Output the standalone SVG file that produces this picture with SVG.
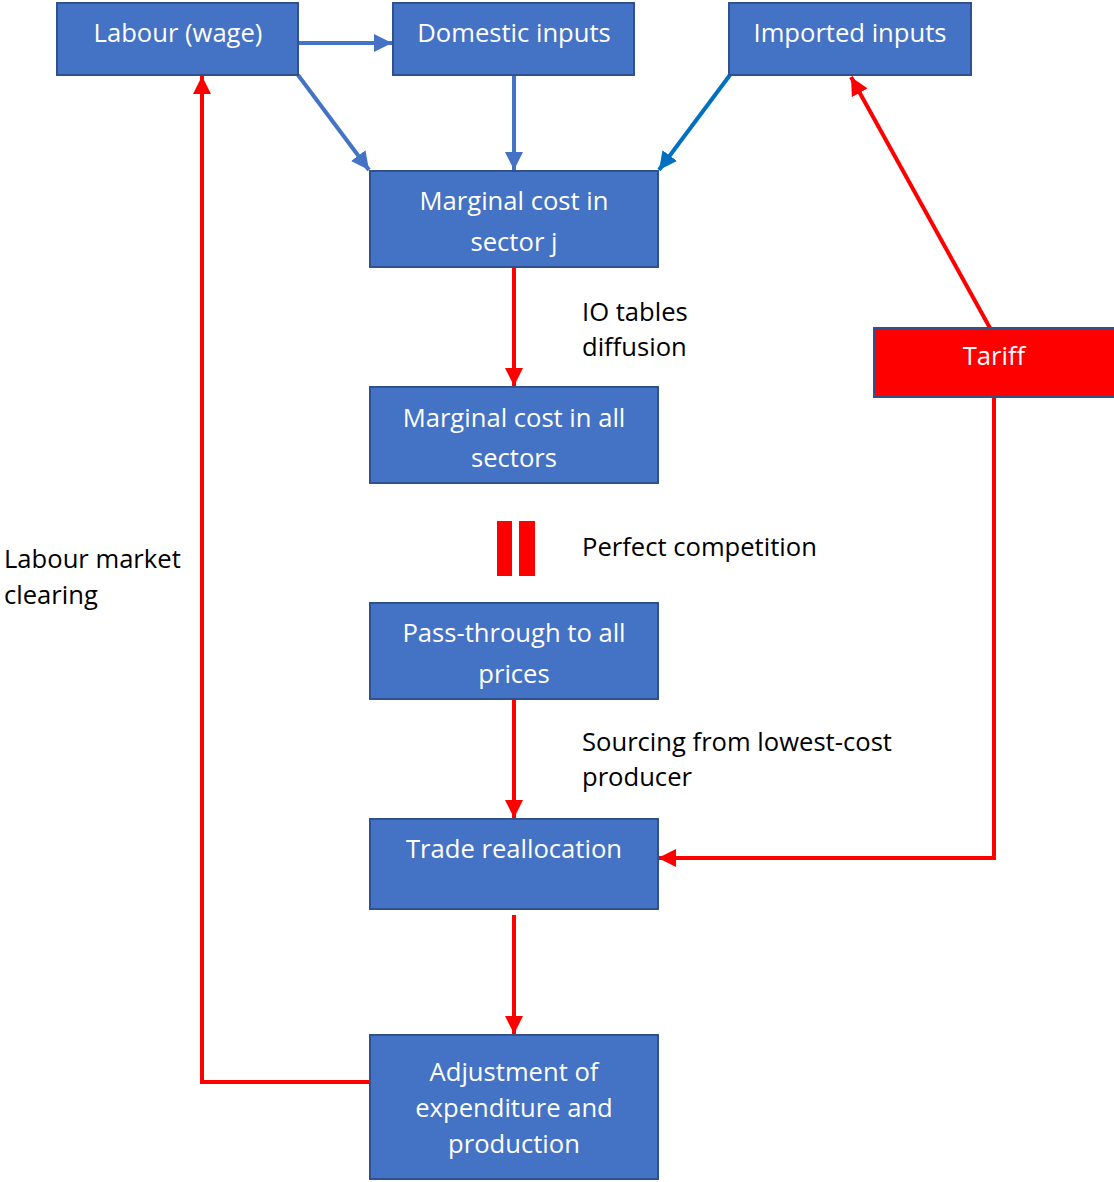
<svg xmlns="http://www.w3.org/2000/svg" width="1114" height="1182" viewBox="0 0 1114 1182">
<style>
.box{fill:#4472C4;stroke:#2F528F;stroke-width:2}
.red{fill:#FF0000;stroke:#2F528F;stroke-width:2}
.t{font-family:"Open Sans","Noto Sans",sans-serif;font-size:25.6px;fill:#FFFFFF;text-anchor:middle}
.l{font-family:"Open Sans","Noto Sans",sans-serif;font-size:25.6px;fill:#000000}
.cb{fill:none;stroke:#4472C4;stroke-width:4}
.cb2{fill:none;stroke:#0070C0;stroke-width:4}
.cr{fill:none;stroke:#FF0000;stroke-width:4}
</style>
<defs>
<marker id="ab" viewBox="0 0 10 10" refX="10" refY="5" markerWidth="4.5" markerHeight="4.5" orient="auto" markerUnits="strokeWidth"><path d="M0,0 L10,5 L0,10 z" fill="#4472C4"/></marker>
<marker id="ab2" viewBox="0 0 10 10" refX="10" refY="5" markerWidth="4.5" markerHeight="4.5" orient="auto" markerUnits="strokeWidth"><path d="M0,0 L10,5 L0,10 z" fill="#0070C0"/></marker>
<marker id="ar" viewBox="0 0 10 10" refX="10" refY="5" markerWidth="4.5" markerHeight="4.5" orient="auto" markerUnits="strokeWidth"><path d="M0,0 L10,5 L0,10 z" fill="#FF0000"/></marker>
</defs>
<g id="connectors">
<path class="cb" d="M298,43 L392,43" marker-end="url(#ab)"/>
<path class="cb" d="M298,75 L369,170" marker-end="url(#ab)"/>
<path class="cb" d="M514,75 L514,170" marker-end="url(#ab)"/>
<path class="cb2" d="M730,75 L659,170" marker-end="url(#ab2)"/>
<path class="cr" d="M514,267 L514,386" marker-end="url(#ar)"/>
<path class="cr" d="M514,699 L514,818" marker-end="url(#ar)"/>
<path class="cr" d="M514,915 L514,1034" marker-end="url(#ar)"/>
<path class="cr" d="M994,397 L994,858 L658,858" marker-end="url(#ar)"/>
<path class="cr" d="M990,328 L851,77" marker-end="url(#ar)"/>
<path class="cr" d="M369,1082 L202,1082 L202,76" marker-end="url(#ar)"/>
<rect x="497" y="521" width="15" height="55" fill="#FF0000"/>
<rect x="519" y="521" width="16" height="55" fill="#FF0000"/>
</g>
<g id="labour"><rect class="box" x="57" y="3" width="241" height="72"/><text class="t" x="178" y="42">Labour (wage)</text></g>
<g id="domestic"><rect class="box" x="393" y="3" width="241" height="72"/><text class="t" x="514" y="42">Domestic inputs</text></g>
<g id="imported"><rect class="box" x="729" y="3" width="242" height="72"/><text class="t" x="850" y="42">Imported inputs</text></g>
<g id="mc-j"><rect class="box" x="370" y="171" width="288" height="96"/><text class="t" x="514" y="210">Marginal cost in</text><text class="t" x="514" y="251">sector j</text></g>
<g id="mc-all"><rect class="box" x="370" y="387" width="288" height="96"/><text class="t" x="514" y="427">Marginal cost in all</text><text class="t" x="514" y="467">sectors</text></g>
<g id="pass"><rect class="box" x="370" y="603" width="288" height="96"/><text class="t" x="514" y="642">Pass-through to all</text><text class="t" x="514" y="683">prices</text></g>
<g id="trade"><rect class="box" x="370" y="819" width="288" height="90"/><text class="t" x="514" y="858">Trade reallocation</text></g>
<g id="adjust"><rect class="box" x="370" y="1035" width="288" height="144"/><text class="t" x="514" y="1081">Adjustment of</text><text class="t" x="514" y="1117">expenditure and</text><text class="t" x="514" y="1153">production</text></g>
<g id="tariff"><rect class="red" x="874" y="328" width="242" height="69"/><text class="t" x="994" y="365">Tariff</text></g>
<g id="labels">
<text class="l" x="582" y="321">IO tables</text>
<text class="l" x="582" y="356">diffusion</text>
<text class="l" x="582" y="556">Perfect competition</text>
<text class="l" x="582" y="751">Sourcing from lowest-cost</text>
<text class="l" x="582" y="786">producer</text>
<text class="l" x="4" y="568">Labour market</text>
<text class="l" x="4" y="604">clearing</text>
</g>
</svg>
